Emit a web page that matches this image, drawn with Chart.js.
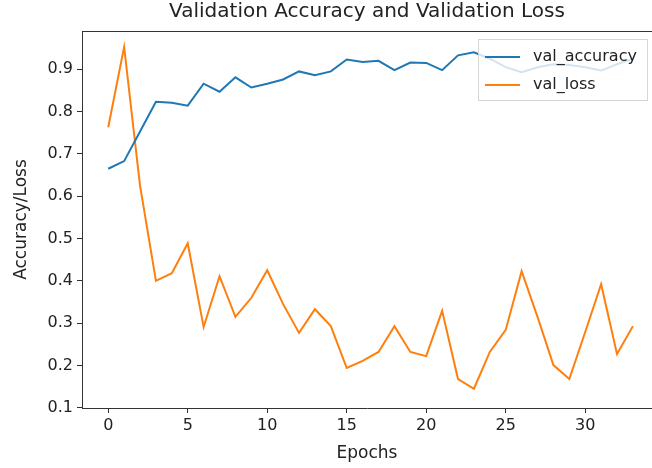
<!DOCTYPE html>
<html>
<head>
<meta charset="utf-8">
<script src="https://cdn.jsdelivr.net/npm/chart.js@4/dist/chart.umd.min.js"></script>
<style>
  html, body { margin: 0; padding: 0; background: #fff; overflow: hidden; }
  #wrap { width: 652px; height: 468px; position: relative; }
</style>
</head>
<body>
<div id="wrap"><canvas id="chart"></canvas></div>
<script>
// 数据
const epochs = [0, 1, 2, 3, 4, 5, 6, 7, 8, 9, 10, 11, 12, 13, 14, 15, 16,
  17, 18, 19, 20, 21, 22, 23, 24, 25, 26, 27, 28, 29, 30, 31, 32, 33];
const valAccuracy = [0.665, 0.683, 0.753, 0.823, 0.821, 0.814, 0.866, 0.847, 0.881, 0.857,
  0.866, 0.876, 0.895, 0.886, 0.895, 0.923, 0.917, 0.920, 0.898, 0.916,
  0.915, 0.898, 0.933, 0.940, 0.925, 0.905, 0.893, 0.905, 0.912, 0.910,
  0.905, 0.897, 0.912, 0.925];
const valLoss = [0.763, 0.953, 0.625, 0.400, 0.418, 0.489, 0.291, 0.411, 0.315, 0.360,
  0.425, 0.345, 0.277, 0.333, 0.293, 0.194, 0.211, 0.232, 0.293, 0.232,
  0.222, 0.329, 0.168, 0.145, 0.232, 0.284, 0.423, 0.315, 0.201, 0.168,
  0.279, 0.392, 0.227, 0.293];
const xTicks = [0, 5, 10, 15, 20, 25, 30];
const yTicks = [0.1, 0.2, 0.3, 0.4, 0.5, 0.6, 0.7, 0.8, 0.9];

const FONT = 'DejaVu Sans';
const AXIS_COLOR = '#333';

// 坐标框（上边线）
const framePlugin = {
  id: 'frame',
  afterDraw(chart) {
    const { ctx, chartArea: a } = chart;
    ctx.save();
    ctx.strokeStyle = AXIS_COLOR;
    ctx.lineWidth = 1;
    ctx.beginPath();
    ctx.moveTo(a.left, a.top + 0.5);
    ctx.lineTo(a.right, a.top + 0.5);
    ctx.stroke();
    ctx.restore();
  }
};

// 图例（仿 matplotlib 右上角半透明框）
const legendPlugin = {
  id: 'mplLegend',
  afterDatasetsDraw(chart) {
    const { ctx, chartArea: a } = chart;
    const x0 = a.right - 174, y0 = a.top + 8, w = 170, h = 62;
    ctx.save();
    ctx.fillStyle = 'rgba(255,255,255,0.8)';
    ctx.fillRect(x0, y0, w, h);
    ctx.strokeStyle = 'rgba(204,204,204,0.8)';
    ctx.lineWidth = 1;
    ctx.strokeRect(x0 + 0.5, y0 + 0.5, w - 1, h - 1);
    ctx.font = '16px "' + FONT + '"';
    ctx.textBaseline = 'middle';
    chart.data.datasets.forEach((ds, i) => {
      const y = y0 + 18 + i * 28;
      ctx.strokeStyle = ds.borderColor;
      ctx.lineWidth = 2;
      ctx.beginPath();
      ctx.moveTo(x0 + 7, y);
      ctx.lineTo(x0 + 42, y);
      ctx.stroke();
      ctx.fillStyle = '#222';
      ctx.fillText(ds.label, x0 + 55, y);
    });
    ctx.restore();
  }
};

new Chart(document.getElementById('chart'), {
  type: 'line',
  data: {
    datasets: [
      {
        label: 'val_accuracy',
        data: epochs.map((e, i) => ({ x: e, y: valAccuracy[i] })),
        borderColor: '#1f77b4',
        borderWidth: 2,
        pointRadius: 0,
        tension: 0,
        fill: false
      },
      {
        label: 'val_loss',
        data: epochs.map((e, i) => ({ x: e, y: valLoss[i] })),
        borderColor: '#ff7f0e',
        borderWidth: 2,
        pointRadius: 0,
        tension: 0,
        fill: false
      }
    ]
  },
  options: {
    responsive: true,
    maintainAspectRatio: false,
    animation: false,
    layout: { padding: 0 },
    scales: {
      x: {
        type: 'linear',
        min: -1.65,
        max: 34.2,
        afterBuildTicks: (s) => { s.ticks = xTicks.map(v => ({ value: v })); },
        afterFit: (s) => { s.height = 60; },
        grid: { drawOnChartArea: false, tickLength: 5, tickColor: AXIS_COLOR, tickWidth: 1 },
        border: { color: AXIS_COLOR, width: 1 },
        ticks: { color: '#222', font: { family: FONT, size: 16 }, padding: 3, maxRotation: 0 },
        title: { display: true, text: 'Epochs', color: '#222',
                 font: { family: FONT, size: 17 }, padding: { top: 0, bottom: 4 } }
      },
      y: {
        min: 0.0995,
        max: 0.9905,
        afterBuildTicks: (s) => { s.ticks = yTicks.map(v => ({ value: v })); },
        afterFit: (s) => { s.width = 82; },
        grid: { drawOnChartArea: false, tickLength: 5, tickColor: AXIS_COLOR, tickWidth: 1 },
        border: { color: AXIS_COLOR, width: 1 },
        ticks: { color: '#222', font: { family: FONT, size: 16 }, padding: 4,
                 callback: (v) => v.toFixed(1) },
        title: { display: true, text: 'Accuracy/Loss', color: '#222',
                 font: { family: FONT, size: 17 }, padding: { top: 11, bottom: 0 } }
      }
    },
    plugins: {
      legend: { display: false },
      tooltip: { enabled: false },
      title: {
        display: true,
        fullSize: false,
        text: 'Validation Accuracy and Validation Loss',
        color: '#222',
        font: { family: FONT, size: 20, weight: 'normal' },
        padding: { top: 0, bottom: 7 }
      }
    }
  },
  plugins: [framePlugin, legendPlugin]
});
</script>
</body>
</html>
